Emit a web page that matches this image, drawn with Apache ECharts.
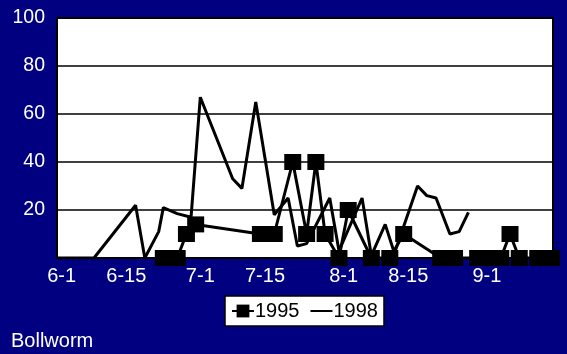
<!DOCTYPE html>
<html>
<head>
<meta charset="utf-8">
<script src="https://cdn.jsdelivr.net/npm/echarts@6/dist/echarts.min.js"></script>
<style>
html,body{margin:0;padding:0;background:#000080;}
#c{width:567px;height:354px;}
</style>
</head>
<body>
<div id="c"></div>
<script>
// Day offsets from June 1
const labelDays = [0, 14, 30, 44, 61, 75, 92];
const labelTexts = ['6-1', '6-15', '7-1', '7-15', '8-1', '8-15', '9-1'];
const yTicks = [0, 20, 40, 60, 80, 100];

const days1995 = [22, 25, 27, 29, 43, 46, 50, 53, 55, 57, 60, 62, 67, 71, 74, 82, 85, 90, 93, 95, 97, 99, 103, 106];
const vals1995 = [0, 0, 10, 14, 10, 10, 40, 10, 40, 10, 0, 20, 0, 0, 10, 0, 0, 0, 0, 0, 10, 0, 0, 0];

const days1998 = [-1, 7, 16, 18, 21, 22, 25, 28, 30, 37, 39, 42, 46, 49, 51, 53, 58, 60, 65, 67, 70, 72, 77, 79, 81, 84, 86, 88];
const vals1998 = [0, 0, 22, 0, 11, 21, 18.5, 17, 67, 33, 29, 65, 18, 25, 5, 6, 25, 3, 25, 1, 14, 2, 30, 26, 25, 10, 11, 19];

const font = '"Liberation Sans", Arial, sans-serif';
const chart = echarts.init(document.getElementById('c'), null, {renderer: 'canvas'});
chart.setOption({
  backgroundColor: '#000080',
  animation: false,
  title: {
    text: 'Bollworm', left: 6, top: 326,
    textStyle: {color: '#fff', fontSize: 20, fontWeight: 'normal', fontFamily: font}
  },
  legend: {
    left: 225, top: 296,
    backgroundColor: '#fff', borderColor: '#000', borderWidth: 1.5,
    padding: [5, 6, 5, 6], itemGap: 10, itemWidth: 22, itemHeight: 16,
    textStyle: {color: '#000', fontSize: 20, fontFamily: font, padding: [0, 0, 0, -4]},
    data: [
      {name: '1995'},
      {name: '1998', itemStyle: {opacity: 0}}
    ]
  },
  grid: {
    left: 57, top: 18, right: 14, bottom: 96,
    show: true, backgroundColor: '#fff', borderColor: '#000', borderWidth: 2
  },
  xAxis: {
    type: 'value', min: -1, max: 106.3,
    axisLine: {show: false},
    axisTick: {show: false},
    splitLine: {show: false},
    axisLabel: {
      customValues: labelDays,
      color: '#fff', fontSize: 20, fontFamily: font, margin: 8,
      formatter: v => { const i = labelDays.indexOf(v); return i >= 0 ? labelTexts[i] : ''; }
    }
  },
  yAxis: {
    type: 'value', min: yTicks[0], max: yTicks[yTicks.length - 1], interval: 20,
    axisLine: {show: false},
    axisTick: {show: false},
    splitLine: {show: true, lineStyle: {color: '#000', width: 1.5}},
    axisLabel: {
      color: '#fff', fontSize: 19.5, fontFamily: font, margin: 12,
      formatter: v => v === 0 ? '' : String(v)
    }
  },
  series: [
    {
      name: '1995', type: 'line',
      data: days1995.map((d, i) => [d, vals1995[i]]),
      symbol: 'rect', symbolSize: [17, 16], showAllSymbol: true,
      clip: false,
      itemStyle: {color: '#000'},
      lineStyle: {color: '#000', width: 3},
      z: 3
    },
    {
      name: '1998', type: 'line',
      data: days1998.map((d, i) => [d, vals1998[i]]),
      symbol: 'none',
      itemStyle: {color: '#000'},
      lineStyle: {color: '#000', width: 3},
      z: 2
    }
  ]
});
</script>
</body>
</html>
